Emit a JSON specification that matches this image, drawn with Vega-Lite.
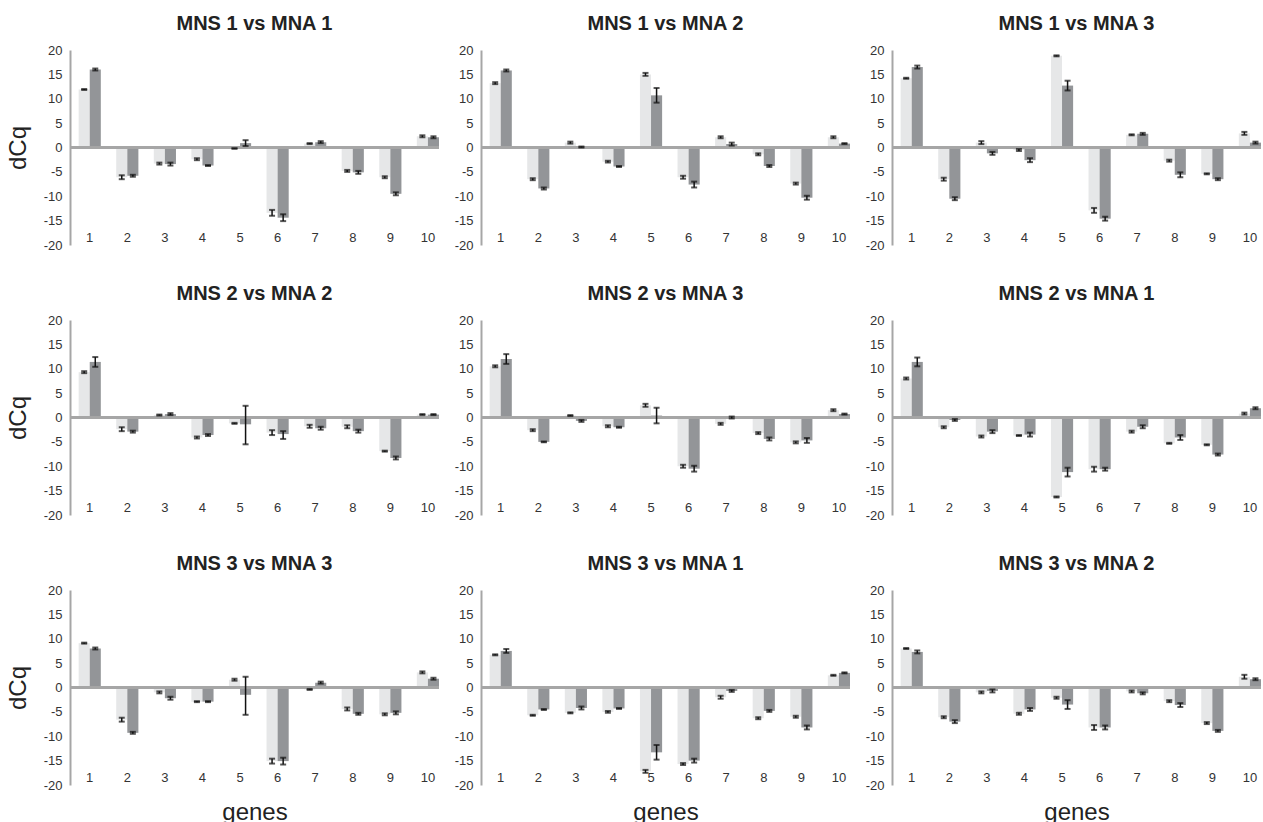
{
"$schema": "https://vega.github.io/schema/vega-lite/v6.json",
"padding": {"left": 6, "top": 14, "right": 0, "bottom": 0},
"datasets": {"d": [
{"p":1,"g":1,"s":"A","v":11.9,"lo":11.8,"hi":12.0},{"p":1,"g":1,"s":"B","v":16.0,"lo":15.8,"hi":16.2},
{"p":1,"g":2,"s":"A","v":-6.1,"lo":-6.5,"hi":-5.7},{"p":1,"g":2,"s":"B","v":-5.8,"lo":-6.0,"hi":-5.6},
{"p":1,"g":3,"s":"A","v":-3.3,"lo":-3.5,"hi":-3.1},{"p":1,"g":3,"s":"B","v":-3.4,"lo":-3.7,"hi":-3.1},
{"p":1,"g":4,"s":"A","v":-2.4,"lo":-2.6,"hi":-2.2},{"p":1,"g":4,"s":"B","v":-3.7,"lo":-3.8,"hi":-3.6},
{"p":1,"g":5,"s":"A","v":-0.2,"lo":-0.25,"hi":-0.15},{"p":1,"g":5,"s":"B","v":0.9,"lo":0.3,"hi":1.5},
{"p":1,"g":6,"s":"A","v":-13.4,"lo":-14.0,"hi":-12.8},{"p":1,"g":6,"s":"B","v":-14.4,"lo":-15.1,"hi":-13.7},
{"p":1,"g":7,"s":"A","v":0.8,"lo":0.7,"hi":0.9},{"p":1,"g":7,"s":"B","v":1.1,"lo":0.9,"hi":1.3},
{"p":1,"g":8,"s":"A","v":-4.8,"lo":-5.0,"hi":-4.6},{"p":1,"g":8,"s":"B","v":-5.1,"lo":-5.4,"hi":-4.8},
{"p":1,"g":9,"s":"A","v":-6.1,"lo":-6.3,"hi":-5.9},{"p":1,"g":9,"s":"B","v":-9.5,"lo":-9.8,"hi":-9.2},
{"p":1,"g":10,"s":"A","v":2.3,"lo":2.1,"hi":2.5},{"p":1,"g":10,"s":"B","v":2.1,"lo":1.9,"hi":2.3},

{"p":2,"g":1,"s":"A","v":13.2,"lo":13.0,"hi":13.4},{"p":2,"g":1,"s":"B","v":15.8,"lo":15.6,"hi":16.0},
{"p":2,"g":2,"s":"A","v":-6.5,"lo":-6.7,"hi":-6.3},{"p":2,"g":2,"s":"B","v":-8.4,"lo":-8.6,"hi":-8.2},
{"p":2,"g":3,"s":"A","v":1.0,"lo":0.8,"hi":1.2},{"p":2,"g":3,"s":"B","v":0.1,"lo":0.0,"hi":0.2},
{"p":2,"g":4,"s":"A","v":-2.9,"lo":-3.1,"hi":-2.7},{"p":2,"g":4,"s":"B","v":-3.9,"lo":-4.0,"hi":-3.8},
{"p":2,"g":5,"s":"A","v":15.0,"lo":14.7,"hi":15.3},{"p":2,"g":5,"s":"B","v":10.7,"lo":9.2,"hi":12.2},
{"p":2,"g":6,"s":"A","v":-6.1,"lo":-6.4,"hi":-5.8},{"p":2,"g":6,"s":"B","v":-7.6,"lo":-8.2,"hi":-7.0},
{"p":2,"g":7,"s":"A","v":2.1,"lo":1.9,"hi":2.3},{"p":2,"g":7,"s":"B","v":0.7,"lo":0.4,"hi":1.0},
{"p":2,"g":8,"s":"A","v":-1.4,"lo":-1.6,"hi":-1.2},{"p":2,"g":8,"s":"B","v":-3.8,"lo":-4.0,"hi":-3.6},
{"p":2,"g":9,"s":"A","v":-7.4,"lo":-7.6,"hi":-7.2},{"p":2,"g":9,"s":"B","v":-10.3,"lo":-10.7,"hi":-9.9},
{"p":2,"g":10,"s":"A","v":2.1,"lo":1.9,"hi":2.3},{"p":2,"g":10,"s":"B","v":0.8,"lo":0.7,"hi":0.9},

{"p":3,"g":1,"s":"A","v":14.2,"lo":14.1,"hi":14.3},{"p":3,"g":1,"s":"B","v":16.5,"lo":16.2,"hi":16.8},
{"p":3,"g":2,"s":"A","v":-6.5,"lo":-6.8,"hi":-6.2},{"p":3,"g":2,"s":"B","v":-10.5,"lo":-10.8,"hi":-10.2},
{"p":3,"g":3,"s":"A","v":1.0,"lo":0.7,"hi":1.3},{"p":3,"g":3,"s":"B","v":-1.2,"lo":-1.5,"hi":-0.9},
{"p":3,"g":4,"s":"A","v":-0.5,"lo":-0.7,"hi":-0.3},{"p":3,"g":4,"s":"B","v":-2.6,"lo":-3.0,"hi":-2.2},
{"p":3,"g":5,"s":"A","v":18.8,"lo":18.7,"hi":18.9},{"p":3,"g":5,"s":"B","v":12.7,"lo":11.7,"hi":13.7},
{"p":3,"g":6,"s":"A","v":-12.9,"lo":-13.4,"hi":-12.4},{"p":3,"g":6,"s":"B","v":-14.6,"lo":-15.0,"hi":-14.2},
{"p":3,"g":7,"s":"A","v":2.6,"lo":2.5,"hi":2.7},{"p":3,"g":7,"s":"B","v":2.8,"lo":2.6,"hi":3.0},
{"p":3,"g":8,"s":"A","v":-2.7,"lo":-2.9,"hi":-2.5},{"p":3,"g":8,"s":"B","v":-5.6,"lo":-6.1,"hi":-5.1},
{"p":3,"g":9,"s":"A","v":-5.4,"lo":-5.5,"hi":-5.3},{"p":3,"g":9,"s":"B","v":-6.5,"lo":-6.7,"hi":-6.3},
{"p":3,"g":10,"s":"A","v":2.9,"lo":2.6,"hi":3.2},{"p":3,"g":10,"s":"B","v":1.0,"lo":0.8,"hi":1.2},

{"p":4,"g":1,"s":"A","v":9.3,"lo":9.1,"hi":9.5},{"p":4,"g":1,"s":"B","v":11.4,"lo":10.4,"hi":12.4},
{"p":4,"g":2,"s":"A","v":-2.4,"lo":-2.8,"hi":-2.0},{"p":4,"g":2,"s":"B","v":-2.9,"lo":-3.1,"hi":-2.7},
{"p":4,"g":3,"s":"A","v":0.5,"lo":0.4,"hi":0.6},{"p":4,"g":3,"s":"B","v":0.7,"lo":0.5,"hi":0.9},
{"p":4,"g":4,"s":"A","v":-4.1,"lo":-4.3,"hi":-3.9},{"p":4,"g":4,"s":"B","v":-3.6,"lo":-3.8,"hi":-3.4},
{"p":4,"g":5,"s":"A","v":-1.2,"lo":-1.3,"hi":-1.1},{"p":4,"g":5,"s":"B","v":-1.4,"lo":-5.5,"hi":2.4},
{"p":4,"g":6,"s":"A","v":-3.1,"lo":-3.6,"hi":-2.6},{"p":4,"g":6,"s":"B","v":-3.4,"lo":-4.4,"hi":-2.8},
{"p":4,"g":7,"s":"A","v":-1.8,"lo":-2.1,"hi":-1.5},{"p":4,"g":7,"s":"B","v":-2.2,"lo":-2.5,"hi":-1.9},
{"p":4,"g":8,"s":"A","v":-1.9,"lo":-2.2,"hi":-1.6},{"p":4,"g":8,"s":"B","v":-2.8,"lo":-3.1,"hi":-2.5},
{"p":4,"g":9,"s":"A","v":-6.9,"lo":-7.0,"hi":-6.8},{"p":4,"g":9,"s":"B","v":-8.3,"lo":-8.6,"hi":-8.0},
{"p":4,"g":10,"s":"A","v":0.6,"lo":0.5,"hi":0.7},{"p":4,"g":10,"s":"B","v":0.6,"lo":0.5,"hi":0.7},

{"p":5,"g":1,"s":"A","v":10.5,"lo":10.3,"hi":10.7},{"p":5,"g":1,"s":"B","v":12.0,"lo":11.0,"hi":13.0},
{"p":5,"g":2,"s":"A","v":-2.6,"lo":-2.8,"hi":-2.4},{"p":5,"g":2,"s":"B","v":-5.0,"lo":-5.1,"hi":-4.9},
{"p":5,"g":3,"s":"A","v":0.4,"lo":0.3,"hi":0.5},{"p":5,"g":3,"s":"B","v":-0.7,"lo":-0.9,"hi":-0.5},
{"p":5,"g":4,"s":"A","v":-1.8,"lo":-2.0,"hi":-1.6},{"p":5,"g":4,"s":"B","v":-2.0,"lo":-2.1,"hi":-1.9},
{"p":5,"g":5,"s":"A","v":2.5,"lo":2.2,"hi":2.8},{"p":5,"g":5,"s":"B","v":0.4,"lo":-1.2,"hi":2.0},
{"p":5,"g":6,"s":"A","v":-10.0,"lo":-10.3,"hi":-9.7},{"p":5,"g":6,"s":"B","v":-10.5,"lo":-11.1,"hi":-9.9},
{"p":5,"g":7,"s":"A","v":-1.3,"lo":-1.5,"hi":-1.1},{"p":5,"g":7,"s":"B","v":0.0,"lo":-0.2,"hi":0.2},
{"p":5,"g":8,"s":"A","v":-3.2,"lo":-3.4,"hi":-3.0},{"p":5,"g":8,"s":"B","v":-4.4,"lo":-4.7,"hi":-4.1},
{"p":5,"g":9,"s":"A","v":-5.1,"lo":-5.3,"hi":-4.9},{"p":5,"g":9,"s":"B","v":-4.7,"lo":-5.2,"hi":-4.2},
{"p":5,"g":10,"s":"A","v":1.5,"lo":1.3,"hi":1.7},{"p":5,"g":10,"s":"B","v":0.7,"lo":0.6,"hi":0.8},

{"p":6,"g":1,"s":"A","v":8.0,"lo":7.8,"hi":8.2},{"p":6,"g":1,"s":"B","v":11.4,"lo":10.5,"hi":12.3},
{"p":6,"g":2,"s":"A","v":-2.0,"lo":-2.2,"hi":-1.8},{"p":6,"g":2,"s":"B","v":-0.5,"lo":-0.7,"hi":-0.3},
{"p":6,"g":3,"s":"A","v":-3.9,"lo":-4.1,"hi":-3.7},{"p":6,"g":3,"s":"B","v":-2.9,"lo":-3.2,"hi":-2.6},
{"p":6,"g":4,"s":"A","v":-3.7,"lo":-3.8,"hi":-3.6},{"p":6,"g":4,"s":"B","v":-3.5,"lo":-3.9,"hi":-3.1},
{"p":6,"g":5,"s":"A","v":-16.3,"lo":-16.4,"hi":-16.2},{"p":6,"g":5,"s":"B","v":-11.2,"lo":-12.1,"hi":-10.3},
{"p":6,"g":6,"s":"A","v":-10.6,"lo":-11.1,"hi":-10.1},{"p":6,"g":6,"s":"B","v":-10.6,"lo":-10.9,"hi":-10.3},
{"p":6,"g":7,"s":"A","v":-2.9,"lo":-3.1,"hi":-2.7},{"p":6,"g":7,"s":"B","v":-1.9,"lo":-2.2,"hi":-1.6},
{"p":6,"g":8,"s":"A","v":-5.3,"lo":-5.4,"hi":-5.2},{"p":6,"g":8,"s":"B","v":-4.1,"lo":-4.6,"hi":-3.6},
{"p":6,"g":9,"s":"A","v":-5.6,"lo":-5.7,"hi":-5.5},{"p":6,"g":9,"s":"B","v":-7.6,"lo":-7.8,"hi":-7.4},
{"p":6,"g":10,"s":"A","v":0.8,"lo":0.6,"hi":1.0},{"p":6,"g":10,"s":"B","v":1.9,"lo":1.7,"hi":2.1},

{"p":7,"g":1,"s":"A","v":9.1,"lo":9.0,"hi":9.2},{"p":7,"g":1,"s":"B","v":8.0,"lo":7.8,"hi":8.2},
{"p":7,"g":2,"s":"A","v":-6.6,"lo":-7.0,"hi":-6.2},{"p":7,"g":2,"s":"B","v":-9.3,"lo":-9.5,"hi":-9.1},
{"p":7,"g":3,"s":"A","v":-1.0,"lo":-1.2,"hi":-0.8},{"p":7,"g":3,"s":"B","v":-2.2,"lo":-2.5,"hi":-1.9},
{"p":7,"g":4,"s":"A","v":-2.9,"lo":-3.0,"hi":-2.8},{"p":7,"g":4,"s":"B","v":-2.9,"lo":-3.0,"hi":-2.8},
{"p":7,"g":5,"s":"A","v":1.6,"lo":1.4,"hi":1.8},{"p":7,"g":5,"s":"B","v":-1.5,"lo":-5.6,"hi":2.2},
{"p":7,"g":6,"s":"A","v":-15.1,"lo":-15.6,"hi":-14.6},{"p":7,"g":6,"s":"B","v":-15.1,"lo":-15.8,"hi":-14.4},
{"p":7,"g":7,"s":"A","v":-0.4,"lo":-0.5,"hi":-0.3},{"p":7,"g":7,"s":"B","v":1.0,"lo":0.8,"hi":1.2},
{"p":7,"g":8,"s":"A","v":-4.4,"lo":-4.7,"hi":-4.1},{"p":7,"g":8,"s":"B","v":-5.4,"lo":-5.6,"hi":-5.2},
{"p":7,"g":9,"s":"A","v":-5.5,"lo":-5.7,"hi":-5.3},{"p":7,"g":9,"s":"B","v":-5.2,"lo":-5.5,"hi":-4.9},
{"p":7,"g":10,"s":"A","v":3.1,"lo":2.9,"hi":3.3},{"p":7,"g":10,"s":"B","v":1.8,"lo":1.6,"hi":2.0},

{"p":8,"g":1,"s":"A","v":6.7,"lo":6.6,"hi":6.8},{"p":8,"g":1,"s":"B","v":7.5,"lo":7.1,"hi":7.9},
{"p":8,"g":2,"s":"A","v":-5.7,"lo":-5.8,"hi":-5.6},{"p":8,"g":2,"s":"B","v":-4.5,"lo":-4.6,"hi":-4.4},
{"p":8,"g":3,"s":"A","v":-5.2,"lo":-5.3,"hi":-5.1},{"p":8,"g":3,"s":"B","v":-4.2,"lo":-4.5,"hi":-3.9},
{"p":8,"g":4,"s":"A","v":-5.0,"lo":-5.2,"hi":-4.8},{"p":8,"g":4,"s":"B","v":-4.3,"lo":-4.4,"hi":-4.2},
{"p":8,"g":5,"s":"A","v":-17.2,"lo":-17.5,"hi":-16.9},{"p":8,"g":5,"s":"B","v":-13.3,"lo":-14.8,"hi":-11.8},
{"p":8,"g":6,"s":"A","v":-15.7,"lo":-15.9,"hi":-15.5},{"p":8,"g":6,"s":"B","v":-15.0,"lo":-15.4,"hi":-14.6},
{"p":8,"g":7,"s":"A","v":-2.0,"lo":-2.3,"hi":-1.7},{"p":8,"g":7,"s":"B","v":-0.7,"lo":-0.9,"hi":-0.5},
{"p":8,"g":8,"s":"A","v":-6.3,"lo":-6.5,"hi":-6.1},{"p":8,"g":8,"s":"B","v":-4.8,"lo":-5.0,"hi":-4.6},
{"p":8,"g":9,"s":"A","v":-6.0,"lo":-6.2,"hi":-5.8},{"p":8,"g":9,"s":"B","v":-8.2,"lo":-8.6,"hi":-7.8},
{"p":8,"g":10,"s":"A","v":2.5,"lo":2.4,"hi":2.6},{"p":8,"g":10,"s":"B","v":3.0,"lo":2.9,"hi":3.1},

{"p":9,"g":1,"s":"A","v":8.0,"lo":7.9,"hi":8.1},{"p":9,"g":1,"s":"B","v":7.3,"lo":7.0,"hi":7.6},
{"p":9,"g":2,"s":"A","v":-6.1,"lo":-6.3,"hi":-5.9},{"p":9,"g":2,"s":"B","v":-7.0,"lo":-7.3,"hi":-6.7},
{"p":9,"g":3,"s":"A","v":-1.0,"lo":-1.2,"hi":-0.8},{"p":9,"g":3,"s":"B","v":-0.7,"lo":-1.0,"hi":-0.4},
{"p":9,"g":4,"s":"A","v":-5.4,"lo":-5.6,"hi":-5.2},{"p":9,"g":4,"s":"B","v":-4.5,"lo":-4.8,"hi":-4.2},
{"p":9,"g":5,"s":"A","v":-2.1,"lo":-2.3,"hi":-1.9},{"p":9,"g":5,"s":"B","v":-3.5,"lo":-4.4,"hi":-2.6},
{"p":9,"g":6,"s":"A","v":-8.2,"lo":-8.7,"hi":-7.7},{"p":9,"g":6,"s":"B","v":-8.2,"lo":-8.6,"hi":-7.8},
{"p":9,"g":7,"s":"A","v":-0.8,"lo":-1.0,"hi":-0.6},{"p":9,"g":7,"s":"B","v":-1.2,"lo":-1.4,"hi":-1.0},
{"p":9,"g":8,"s":"A","v":-2.8,"lo":-3.0,"hi":-2.6},{"p":9,"g":8,"s":"B","v":-3.6,"lo":-4.0,"hi":-3.2},
{"p":9,"g":9,"s":"A","v":-7.3,"lo":-7.5,"hi":-7.1},{"p":9,"g":9,"s":"B","v":-8.9,"lo":-9.1,"hi":-8.7},
{"p":9,"g":10,"s":"A","v":2.2,"lo":1.8,"hi":2.6},{"p":9,"g":10,"s":"B","v":1.7,"lo":1.5,"hi":1.9}
]},
"data": {"name": "d"},
"columns": 3,
"spacing": {"row": 32, "column": 14},
"concat": [
{"title": "MNS 1 vs MNA 1", "width": 369, "height": 195, "transform": [{"filter": "datum.p == 1"}],
 "layer": [
  {"mark": "bar", "encoding": {"x": {"field": "g", "type": "ordinal", "title": null, "scale": {"paddingInner": 0.41, "paddingOuter": 0.115, "align": 1}}, "xOffset": {"field": "s", "type": "nominal"}, "y": {"field": "v", "type": "quantitative", "title": "dCq", "scale": {"domain": [-20, 20], "nice": false}, "axis": {"values": [-20,-15,-10,-5,0,5,10,15,20], "tickCount": 9, "labelOverlap": false}}, "color": {"field": "s", "type": "nominal", "scale": {"domain": ["A","B"], "range": ["#e6e7e8","#939598"]}, "legend": null}}},
  {"mark": {"type": "rule", "color": "#a6a6a6", "strokeWidth": 2}, "encoding": {"y": {"datum": 0, "axis": {"values": [-20,-15,-10,-5,0,5,10,15,20], "tickCount": 9, "labelOverlap": false}}}},
  {"mark": {"type": "rule", "color": "#111", "strokeWidth": 1.5}, "encoding": {"x": {"field": "g", "type": "ordinal", "title": null}, "xOffset": {"field": "s", "type": "nominal"}, "y": {"field": "lo", "type": "quantitative", "title": "dCq", "axis": {"values": [-20,-15,-10,-5,0,5,10,15,20], "tickCount": 9, "labelOverlap": false}}, "y2": {"field": "hi"}}},
  {"mark": {"type": "tick", "color": "#111", "size": 6, "thickness": 2}, "encoding": {"x": {"field": "g", "type": "ordinal", "title": null}, "xOffset": {"field": "s", "type": "nominal"}, "y": {"field": "lo", "type": "quantitative", "title": "dCq", "axis": {"values": [-20,-15,-10,-5,0,5,10,15,20], "tickCount": 9, "labelOverlap": false}}}},
  {"mark": {"type": "tick", "color": "#111", "size": 6, "thickness": 2}, "encoding": {"x": {"field": "g", "type": "ordinal", "title": null}, "xOffset": {"field": "s", "type": "nominal"}, "y": {"field": "hi", "type": "quantitative", "title": "dCq", "axis": {"values": [-20,-15,-10,-5,0,5,10,15,20], "tickCount": 9, "labelOverlap": false}}}}
 ]},
{"title": "MNS 1 vs MNA 2", "width": 369, "height": 195, "transform": [{"filter": "datum.p == 2"}],
 "layer": [
  {"mark": "bar", "encoding": {"x": {"field": "g", "type": "ordinal", "title": null, "scale": {"paddingInner": 0.41, "paddingOuter": 0.115, "align": 1}}, "xOffset": {"field": "s", "type": "nominal"}, "y": {"field": "v", "type": "quantitative", "title": null, "scale": {"domain": [-20, 20], "nice": false}, "axis": {"values": [-20,-15,-10,-5,0,5,10,15,20], "tickCount": 9, "labelOverlap": false}}, "color": {"field": "s", "type": "nominal", "scale": {"domain": ["A","B"], "range": ["#e6e7e8","#939598"]}, "legend": null}}},
  {"mark": {"type": "rule", "color": "#a6a6a6", "strokeWidth": 2}, "encoding": {"y": {"datum": 0, "axis": {"values": [-20,-15,-10,-5,0,5,10,15,20], "tickCount": 9, "labelOverlap": false}}}},
  {"mark": {"type": "rule", "color": "#111", "strokeWidth": 1.5}, "encoding": {"x": {"field": "g", "type": "ordinal", "title": null}, "xOffset": {"field": "s", "type": "nominal"}, "y": {"field": "lo", "type": "quantitative", "title": null, "axis": {"values": [-20,-15,-10,-5,0,5,10,15,20], "tickCount": 9, "labelOverlap": false}}, "y2": {"field": "hi"}}},
  {"mark": {"type": "tick", "color": "#111", "size": 6, "thickness": 2}, "encoding": {"x": {"field": "g", "type": "ordinal", "title": null}, "xOffset": {"field": "s", "type": "nominal"}, "y": {"field": "lo", "type": "quantitative", "title": null, "axis": {"values": [-20,-15,-10,-5,0,5,10,15,20], "tickCount": 9, "labelOverlap": false}}}},
  {"mark": {"type": "tick", "color": "#111", "size": 6, "thickness": 2}, "encoding": {"x": {"field": "g", "type": "ordinal", "title": null}, "xOffset": {"field": "s", "type": "nominal"}, "y": {"field": "hi", "type": "quantitative", "title": null, "axis": {"values": [-20,-15,-10,-5,0,5,10,15,20], "tickCount": 9, "labelOverlap": false}}}}
 ]},
{"title": "MNS 1 vs MNA 3", "width": 369, "height": 195, "transform": [{"filter": "datum.p == 3"}],
 "layer": [
  {"mark": "bar", "encoding": {"x": {"field": "g", "type": "ordinal", "title": null, "scale": {"paddingInner": 0.41, "paddingOuter": 0.115, "align": 1}}, "xOffset": {"field": "s", "type": "nominal"}, "y": {"field": "v", "type": "quantitative", "title": null, "scale": {"domain": [-20, 20], "nice": false}, "axis": {"values": [-20,-15,-10,-5,0,5,10,15,20], "tickCount": 9, "labelOverlap": false}}, "color": {"field": "s", "type": "nominal", "scale": {"domain": ["A","B"], "range": ["#e6e7e8","#939598"]}, "legend": null}}},
  {"mark": {"type": "rule", "color": "#a6a6a6", "strokeWidth": 2}, "encoding": {"y": {"datum": 0, "axis": {"values": [-20,-15,-10,-5,0,5,10,15,20], "tickCount": 9, "labelOverlap": false}}}},
  {"mark": {"type": "rule", "color": "#111", "strokeWidth": 1.5}, "encoding": {"x": {"field": "g", "type": "ordinal", "title": null}, "xOffset": {"field": "s", "type": "nominal"}, "y": {"field": "lo", "type": "quantitative", "title": null, "axis": {"values": [-20,-15,-10,-5,0,5,10,15,20], "tickCount": 9, "labelOverlap": false}}, "y2": {"field": "hi"}}},
  {"mark": {"type": "tick", "color": "#111", "size": 6, "thickness": 2}, "encoding": {"x": {"field": "g", "type": "ordinal", "title": null}, "xOffset": {"field": "s", "type": "nominal"}, "y": {"field": "lo", "type": "quantitative", "title": null, "axis": {"values": [-20,-15,-10,-5,0,5,10,15,20], "tickCount": 9, "labelOverlap": false}}}},
  {"mark": {"type": "tick", "color": "#111", "size": 6, "thickness": 2}, "encoding": {"x": {"field": "g", "type": "ordinal", "title": null}, "xOffset": {"field": "s", "type": "nominal"}, "y": {"field": "hi", "type": "quantitative", "title": null, "axis": {"values": [-20,-15,-10,-5,0,5,10,15,20], "tickCount": 9, "labelOverlap": false}}}}
 ]},
{"title": "MNS 2 vs MNA 2", "width": 369, "height": 195, "transform": [{"filter": "datum.p == 4"}],
 "layer": [
  {"mark": "bar", "encoding": {"x": {"field": "g", "type": "ordinal", "title": null, "scale": {"paddingInner": 0.41, "paddingOuter": 0.115, "align": 1}}, "xOffset": {"field": "s", "type": "nominal"}, "y": {"field": "v", "type": "quantitative", "title": "dCq", "scale": {"domain": [-20, 20], "nice": false}, "axis": {"values": [-20,-15,-10,-5,0,5,10,15,20], "tickCount": 9, "labelOverlap": false}}, "color": {"field": "s", "type": "nominal", "scale": {"domain": ["A","B"], "range": ["#e6e7e8","#939598"]}, "legend": null}}},
  {"mark": {"type": "rule", "color": "#a6a6a6", "strokeWidth": 2}, "encoding": {"y": {"datum": 0, "axis": {"values": [-20,-15,-10,-5,0,5,10,15,20], "tickCount": 9, "labelOverlap": false}}}},
  {"mark": {"type": "rule", "color": "#111", "strokeWidth": 1.5}, "encoding": {"x": {"field": "g", "type": "ordinal", "title": null}, "xOffset": {"field": "s", "type": "nominal"}, "y": {"field": "lo", "type": "quantitative", "title": "dCq", "axis": {"values": [-20,-15,-10,-5,0,5,10,15,20], "tickCount": 9, "labelOverlap": false}}, "y2": {"field": "hi"}}},
  {"mark": {"type": "tick", "color": "#111", "size": 6, "thickness": 2}, "encoding": {"x": {"field": "g", "type": "ordinal", "title": null}, "xOffset": {"field": "s", "type": "nominal"}, "y": {"field": "lo", "type": "quantitative", "title": "dCq", "axis": {"values": [-20,-15,-10,-5,0,5,10,15,20], "tickCount": 9, "labelOverlap": false}}}},
  {"mark": {"type": "tick", "color": "#111", "size": 6, "thickness": 2}, "encoding": {"x": {"field": "g", "type": "ordinal", "title": null}, "xOffset": {"field": "s", "type": "nominal"}, "y": {"field": "hi", "type": "quantitative", "title": "dCq", "axis": {"values": [-20,-15,-10,-5,0,5,10,15,20], "tickCount": 9, "labelOverlap": false}}}}
 ]},
{"title": "MNS 2 vs MNA 3", "width": 369, "height": 195, "transform": [{"filter": "datum.p == 5"}],
 "layer": [
  {"mark": "bar", "encoding": {"x": {"field": "g", "type": "ordinal", "title": null, "scale": {"paddingInner": 0.41, "paddingOuter": 0.115, "align": 1}}, "xOffset": {"field": "s", "type": "nominal"}, "y": {"field": "v", "type": "quantitative", "title": null, "scale": {"domain": [-20, 20], "nice": false}, "axis": {"values": [-20,-15,-10,-5,0,5,10,15,20], "tickCount": 9, "labelOverlap": false}}, "color": {"field": "s", "type": "nominal", "scale": {"domain": ["A","B"], "range": ["#e6e7e8","#939598"]}, "legend": null}}},
  {"mark": {"type": "rule", "color": "#a6a6a6", "strokeWidth": 2}, "encoding": {"y": {"datum": 0, "axis": {"values": [-20,-15,-10,-5,0,5,10,15,20], "tickCount": 9, "labelOverlap": false}}}},
  {"mark": {"type": "rule", "color": "#111", "strokeWidth": 1.5}, "encoding": {"x": {"field": "g", "type": "ordinal", "title": null}, "xOffset": {"field": "s", "type": "nominal"}, "y": {"field": "lo", "type": "quantitative", "title": null, "axis": {"values": [-20,-15,-10,-5,0,5,10,15,20], "tickCount": 9, "labelOverlap": false}}, "y2": {"field": "hi"}}},
  {"mark": {"type": "tick", "color": "#111", "size": 6, "thickness": 2}, "encoding": {"x": {"field": "g", "type": "ordinal", "title": null}, "xOffset": {"field": "s", "type": "nominal"}, "y": {"field": "lo", "type": "quantitative", "title": null, "axis": {"values": [-20,-15,-10,-5,0,5,10,15,20], "tickCount": 9, "labelOverlap": false}}}},
  {"mark": {"type": "tick", "color": "#111", "size": 6, "thickness": 2}, "encoding": {"x": {"field": "g", "type": "ordinal", "title": null}, "xOffset": {"field": "s", "type": "nominal"}, "y": {"field": "hi", "type": "quantitative", "title": null, "axis": {"values": [-20,-15,-10,-5,0,5,10,15,20], "tickCount": 9, "labelOverlap": false}}}}
 ]},
{"title": "MNS 2 vs MNA 1", "width": 369, "height": 195, "transform": [{"filter": "datum.p == 6"}],
 "layer": [
  {"mark": "bar", "encoding": {"x": {"field": "g", "type": "ordinal", "title": null, "scale": {"paddingInner": 0.41, "paddingOuter": 0.115, "align": 1}}, "xOffset": {"field": "s", "type": "nominal"}, "y": {"field": "v", "type": "quantitative", "title": null, "scale": {"domain": [-20, 20], "nice": false}, "axis": {"values": [-20,-15,-10,-5,0,5,10,15,20], "tickCount": 9, "labelOverlap": false}}, "color": {"field": "s", "type": "nominal", "scale": {"domain": ["A","B"], "range": ["#e6e7e8","#939598"]}, "legend": null}}},
  {"mark": {"type": "rule", "color": "#a6a6a6", "strokeWidth": 2}, "encoding": {"y": {"datum": 0, "axis": {"values": [-20,-15,-10,-5,0,5,10,15,20], "tickCount": 9, "labelOverlap": false}}}},
  {"mark": {"type": "rule", "color": "#111", "strokeWidth": 1.5}, "encoding": {"x": {"field": "g", "type": "ordinal", "title": null}, "xOffset": {"field": "s", "type": "nominal"}, "y": {"field": "lo", "type": "quantitative", "title": null, "axis": {"values": [-20,-15,-10,-5,0,5,10,15,20], "tickCount": 9, "labelOverlap": false}}, "y2": {"field": "hi"}}},
  {"mark": {"type": "tick", "color": "#111", "size": 6, "thickness": 2}, "encoding": {"x": {"field": "g", "type": "ordinal", "title": null}, "xOffset": {"field": "s", "type": "nominal"}, "y": {"field": "lo", "type": "quantitative", "title": null, "axis": {"values": [-20,-15,-10,-5,0,5,10,15,20], "tickCount": 9, "labelOverlap": false}}}},
  {"mark": {"type": "tick", "color": "#111", "size": 6, "thickness": 2}, "encoding": {"x": {"field": "g", "type": "ordinal", "title": null}, "xOffset": {"field": "s", "type": "nominal"}, "y": {"field": "hi", "type": "quantitative", "title": null, "axis": {"values": [-20,-15,-10,-5,0,5,10,15,20], "tickCount": 9, "labelOverlap": false}}}}
 ]},
{"title": "MNS 3 vs MNA 3", "width": 369, "height": 195, "transform": [{"filter": "datum.p == 7"}],
 "layer": [
  {"mark": "bar", "encoding": {"x": {"field": "g", "type": "ordinal", "title": "genes", "scale": {"paddingInner": 0.41, "paddingOuter": 0.115, "align": 1}}, "xOffset": {"field": "s", "type": "nominal"}, "y": {"field": "v", "type": "quantitative", "title": "dCq", "scale": {"domain": [-20, 20], "nice": false}, "axis": {"values": [-20,-15,-10,-5,0,5,10,15,20], "tickCount": 9, "labelOverlap": false}}, "color": {"field": "s", "type": "nominal", "scale": {"domain": ["A","B"], "range": ["#e6e7e8","#939598"]}, "legend": null}}},
  {"mark": {"type": "rule", "color": "#a6a6a6", "strokeWidth": 2}, "encoding": {"y": {"datum": 0, "axis": {"values": [-20,-15,-10,-5,0,5,10,15,20], "tickCount": 9, "labelOverlap": false}}}},
  {"mark": {"type": "rule", "color": "#111", "strokeWidth": 1.5}, "encoding": {"x": {"field": "g", "type": "ordinal", "title": "genes"}, "xOffset": {"field": "s", "type": "nominal"}, "y": {"field": "lo", "type": "quantitative", "title": "dCq", "axis": {"values": [-20,-15,-10,-5,0,5,10,15,20], "tickCount": 9, "labelOverlap": false}}, "y2": {"field": "hi"}}},
  {"mark": {"type": "tick", "color": "#111", "size": 6, "thickness": 2}, "encoding": {"x": {"field": "g", "type": "ordinal", "title": "genes"}, "xOffset": {"field": "s", "type": "nominal"}, "y": {"field": "lo", "type": "quantitative", "title": "dCq", "axis": {"values": [-20,-15,-10,-5,0,5,10,15,20], "tickCount": 9, "labelOverlap": false}}}},
  {"mark": {"type": "tick", "color": "#111", "size": 6, "thickness": 2}, "encoding": {"x": {"field": "g", "type": "ordinal", "title": "genes"}, "xOffset": {"field": "s", "type": "nominal"}, "y": {"field": "hi", "type": "quantitative", "title": "dCq", "axis": {"values": [-20,-15,-10,-5,0,5,10,15,20], "tickCount": 9, "labelOverlap": false}}}}
 ]},
{"title": "MNS 3 vs MNA 1", "width": 369, "height": 195, "transform": [{"filter": "datum.p == 8"}],
 "layer": [
  {"mark": "bar", "encoding": {"x": {"field": "g", "type": "ordinal", "title": "genes", "scale": {"paddingInner": 0.41, "paddingOuter": 0.115, "align": 1}}, "xOffset": {"field": "s", "type": "nominal"}, "y": {"field": "v", "type": "quantitative", "title": null, "scale": {"domain": [-20, 20], "nice": false}, "axis": {"values": [-20,-15,-10,-5,0,5,10,15,20], "tickCount": 9, "labelOverlap": false}}, "color": {"field": "s", "type": "nominal", "scale": {"domain": ["A","B"], "range": ["#e6e7e8","#939598"]}, "legend": null}}},
  {"mark": {"type": "rule", "color": "#a6a6a6", "strokeWidth": 2}, "encoding": {"y": {"datum": 0, "axis": {"values": [-20,-15,-10,-5,0,5,10,15,20], "tickCount": 9, "labelOverlap": false}}}},
  {"mark": {"type": "rule", "color": "#111", "strokeWidth": 1.5}, "encoding": {"x": {"field": "g", "type": "ordinal", "title": "genes"}, "xOffset": {"field": "s", "type": "nominal"}, "y": {"field": "lo", "type": "quantitative", "title": null, "axis": {"values": [-20,-15,-10,-5,0,5,10,15,20], "tickCount": 9, "labelOverlap": false}}, "y2": {"field": "hi"}}},
  {"mark": {"type": "tick", "color": "#111", "size": 6, "thickness": 2}, "encoding": {"x": {"field": "g", "type": "ordinal", "title": "genes"}, "xOffset": {"field": "s", "type": "nominal"}, "y": {"field": "lo", "type": "quantitative", "title": null, "axis": {"values": [-20,-15,-10,-5,0,5,10,15,20], "tickCount": 9, "labelOverlap": false}}}},
  {"mark": {"type": "tick", "color": "#111", "size": 6, "thickness": 2}, "encoding": {"x": {"field": "g", "type": "ordinal", "title": "genes"}, "xOffset": {"field": "s", "type": "nominal"}, "y": {"field": "hi", "type": "quantitative", "title": null, "axis": {"values": [-20,-15,-10,-5,0,5,10,15,20], "tickCount": 9, "labelOverlap": false}}}}
 ]},
{"title": "MNS 3 vs MNA 2", "width": 369, "height": 195, "transform": [{"filter": "datum.p == 9"}],
 "layer": [
  {"mark": "bar", "encoding": {"x": {"field": "g", "type": "ordinal", "title": "genes", "scale": {"paddingInner": 0.41, "paddingOuter": 0.115, "align": 1}}, "xOffset": {"field": "s", "type": "nominal"}, "y": {"field": "v", "type": "quantitative", "title": null, "scale": {"domain": [-20, 20], "nice": false}, "axis": {"values": [-20,-15,-10,-5,0,5,10,15,20], "tickCount": 9, "labelOverlap": false}}, "color": {"field": "s", "type": "nominal", "scale": {"domain": ["A","B"], "range": ["#e6e7e8","#939598"]}, "legend": null}}},
  {"mark": {"type": "rule", "color": "#a6a6a6", "strokeWidth": 2}, "encoding": {"y": {"datum": 0, "axis": {"values": [-20,-15,-10,-5,0,5,10,15,20], "tickCount": 9, "labelOverlap": false}}}},
  {"mark": {"type": "rule", "color": "#111", "strokeWidth": 1.5}, "encoding": {"x": {"field": "g", "type": "ordinal", "title": "genes"}, "xOffset": {"field": "s", "type": "nominal"}, "y": {"field": "lo", "type": "quantitative", "title": null, "axis": {"values": [-20,-15,-10,-5,0,5,10,15,20], "tickCount": 9, "labelOverlap": false}}, "y2": {"field": "hi"}}},
  {"mark": {"type": "tick", "color": "#111", "size": 6, "thickness": 2}, "encoding": {"x": {"field": "g", "type": "ordinal", "title": "genes"}, "xOffset": {"field": "s", "type": "nominal"}, "y": {"field": "lo", "type": "quantitative", "title": null, "axis": {"values": [-20,-15,-10,-5,0,5,10,15,20], "tickCount": 9, "labelOverlap": false}}}},
  {"mark": {"type": "tick", "color": "#111", "size": 6, "thickness": 2}, "encoding": {"x": {"field": "g", "type": "ordinal", "title": "genes"}, "xOffset": {"field": "s", "type": "nominal"}, "y": {"field": "hi", "type": "quantitative", "title": null, "axis": {"values": [-20,-15,-10,-5,0,5,10,15,20], "tickCount": 9, "labelOverlap": false}}}}
 ]}
],
"config": {
 "font": "Liberation Sans",
 "view": {"stroke": null},
 "axis": {"grid": false, "ticks": false, "tickSize": 0, "labelFontSize": 13, "labelColor": "#333333", "titleFontWeight": "normal", "titleFontSize": 24, "titleColor": "#222222", "domainColor": "#a6a6a6", "domainWidth": 2},
 "axisX": {"domain": false, "labelAngle": 0, "labelPadding": -8, "labelBaseline": "middle", "titlePadding": 15},
 "axisY": {"labelPadding": 8, "titlePadding": 13, "labelOverlap": false, "tickCount": 9, "labelExpr": "'' + datum.value"},
 "title": {"fontSize": 20, "fontWeight": "bold", "color": "#222222", "offset": 10}
}
}
